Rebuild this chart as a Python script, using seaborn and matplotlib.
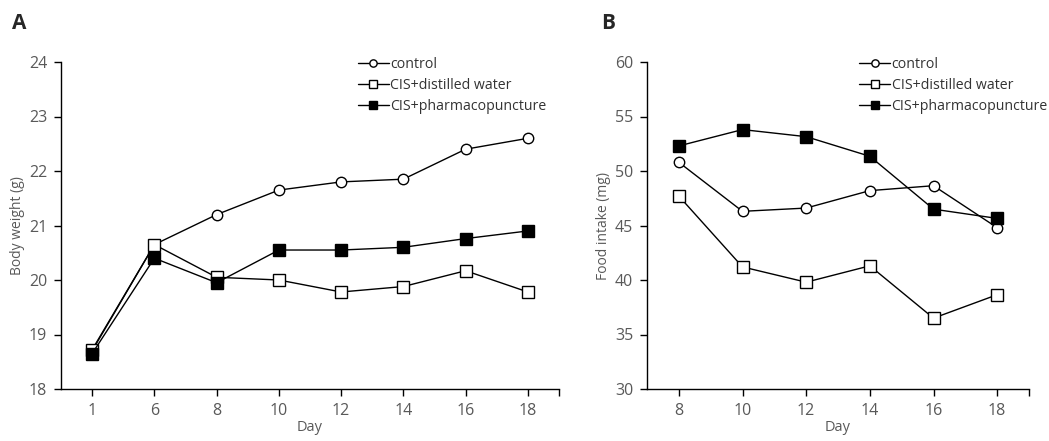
import numpy as np
import matplotlib.pyplot as plt
import seaborn as sns

# ── data ─────────────────────────────────────
days_a = ["1", "6", "8", "10", "12", "14", "16", "18"]
weight_control = [18.70, 20.65, 21.20, 21.65, 21.80, 21.85, 22.40, 22.60]
weight_water   = [18.72, 20.65, 20.05, 20.00, 19.78, 19.88, 20.17, 19.78]
weight_pharma  = [18.65, 20.40, 19.95, 20.55, 20.55, 20.60, 20.76, 20.90]

days_b = ["8", "10", "12", "14", "16", "18"]
food_control = [50.8, 46.3, 46.6, 48.2, 48.65, 44.8]
food_water   = [47.7, 41.2, 39.8, 41.3, 36.5, 38.65]
food_pharma  = [52.3, 53.8, 53.15, 51.35, 46.5, 45.65]

labels = ["control", "CIS+distilled water", "CIS+pharmacopuncture"]

# ── theme ────────────────────────────────────
sns.set_theme(style="ticks")
plt.rcParams["font.family"] = ["Open Sans", "DejaVu Sans"]
GREY = "#595959"

STYLES = [
    dict(marker="o", markerfacecolor="white", markersize=7.5),
    dict(marker="s", markerfacecolor="white", markersize=8),
    dict(marker="s", markerfacecolor="black", markersize=8),
]


def draw_panel(ax, days, series, ylim, yticks, ylabel, leg_x):
    pos = np.arange(len(days))
    for vals, lab, st in zip(series, labels, STYLES):
        sns.lineplot(x=pos, y=vals, ax=ax, color="black", linewidth=1.0,
                     markeredgecolor="black", markeredgewidth=1.0,
                     label=lab, **st)
    ax.set_xlim(-0.5, len(days) - 0.5)
    ax.set_ylim(*ylim)
    ax.set_xticks(pos)
    ax.set_xticklabels(days)
    ax.set_xticks([len(days) - 0.5], minor=True)
    ax.set_yticks(yticks)
    ax.tick_params(axis="both", which="both", direction="out", length=5,
                   width=1.0, color="black", labelsize=11.5, labelcolor=GREY,
                   pad=5)
    ax.set_xlabel("Day", fontsize=10.5, color=GREY, labelpad=1)
    ax.set_ylabel(ylabel, fontsize=10, color=GREY, labelpad=3)
    for s in ["top", "right"]:
        ax.spines[s].set_visible(False)
    for s in ["left", "bottom"]:
        ax.spines[s].set_color("black")
        ax.spines[s].set_linewidth(1.0)
    leg = ax.legend(loc="upper left", bbox_to_anchor=(leg_x, 1.015),
                    frameon=False, fontsize=10.2, handlelength=2.2,
                    handletextpad=0.1, labelspacing=0.42, markerscale=0.7,
                    borderaxespad=0, borderpad=0)
    for t in leg.get_texts():
        t.set_color("#333333")


fig = plt.figure(figsize=(10.49, 4.41), dpi=100)
ax1 = fig.add_axes([61 / 1049, 52 / 441, 498 / 1049, 327 / 441])
ax2 = fig.add_axes([647 / 1049, 52 / 441, 382 / 1049, 327 / 441])

draw_panel(ax1, days_a, [weight_control, weight_water, weight_pharma],
           (18, 24), np.arange(18, 25, 1), "Body weight (g)", 0.596)
draw_panel(ax2, days_b, [food_control, food_water, food_pharma],
           (30, 60), np.arange(30, 61, 5), "Food intake (mg)", 0.555)

fig.text(12 / 1049, 1 - 29 / 441, "A", fontsize=15, fontweight="bold")
fig.text(601 / 1049, 1 - 29 / 441, "B", fontsize=15, fontweight="bold")

fig.savefig("out.png", dpi=100)
